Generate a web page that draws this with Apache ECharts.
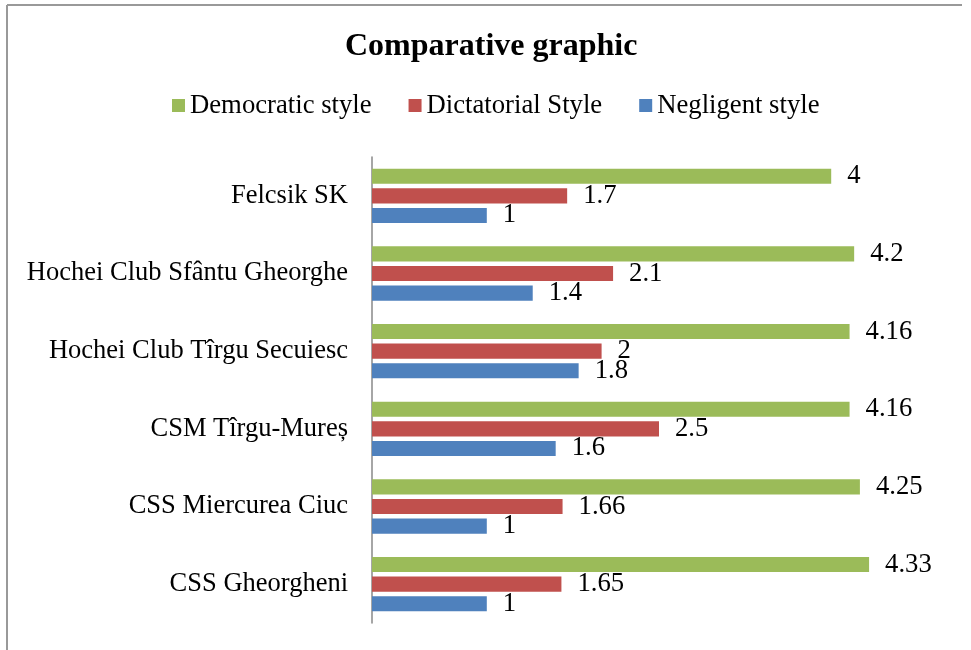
<!DOCTYPE html>
<html>
<head>
<meta charset="utf-8">
<style>
html,body{margin:0;padding:0;background:#fff;}
#chart{width:971px;height:650px;}
</style>
<script src="https://cdn.jsdelivr.net/npm/echarts@6/dist/echarts.min.js"></script>
</head>
<body>
<div id="chart"></div>
<script>
const categories = ["Felcsik SK", "Hochei Club Sfântu Gheorghe", "Hochei Club Tîrgu Secuiesc", "CSM Tîrgu-Mureș", "CSS Miercurea Ciuc", "CSS Gheorgheni"];
const seriesNames = ["Democratic style", "Dictatorial Style", "Negligent style"];
const democratic = [4, 4.2, 4.16, 4.16, 4.25, 4.33];
const dictatorial = [1.7, 2.1, 2, 2.5, 1.66, 1.65];
const negligent = [1, 1.4, 1.8, 1.6, 1, 1];
const colors = ["#9BBB59", "#C0504D", "#4F81BD"];
const values = [democratic, dictatorial, negligent];

const font = "'Liberation Serif', 'Times New Roman', serif";
const chart = echarts.init(document.getElementById('chart'), null, {renderer: 'canvas'});
chart.setOption({
  animation: false,
  backgroundColor: '#fff',
  textStyle: {fontFamily: font},
  title: {
    text: 'Comparative graphic',
    left: 340,
    top: 26,
    textStyle: {fontFamily: font, fontSize: 32, fontWeight: 'bold', color: '#000'}
  },
  legend: {
    data: seriesNames,
    left: 167,
    top: 87,
    itemWidth: 13,
    itemHeight: 13,
    itemGap: 37,
    icon: 'rect',
    textStyle: {fontFamily: font, fontSize: 26.7, color: '#000'}
  },
  grid: {left: 372, right: 25, top: 157, bottom: 27, containLabel: false},
  xAxis: {
    type: 'value', min: 0, max: 5, show: false
  },
  yAxis: {
    type: 'category',
    data: categories,
    inverse: true,
    axisLine: {show: true, lineStyle: {color: '#888', width: 1.5}},
    axisTick: {show: false},
    axisLabel: {fontFamily: font, fontSize: 26.5, color: '#000', margin: 24},
    splitLine: {show: false}
  },
  graphic: [
    {type: 'line', shape: {x1: 7, y1: 5, x2: 962, y2: 5}, style: {stroke: '#999', lineWidth: 2}},
    {type: 'line', shape: {x1: 7, y1: 5, x2: 7, y2: 650}, style: {stroke: '#999', lineWidth: 2}}
  ],
  series: seriesNames.map((n, i) => ({
    name: n,
    type: 'bar',
    data: values[i],
    barCategoryGap: '30%',
    barGap: '30%',
    itemStyle: {color: colors[i]},
    label: {show: true, position: 'right', distance: 16, fontFamily: font, fontSize: 26.7, color: '#000'}
  }))
});
</script>
</body>
</html>
